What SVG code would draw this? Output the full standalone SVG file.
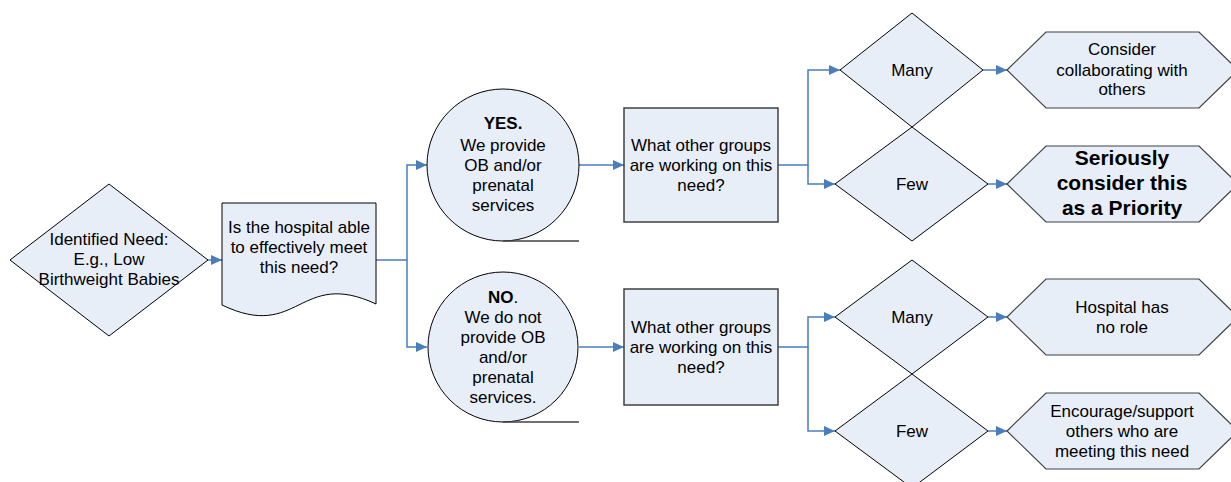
<svg xmlns="http://www.w3.org/2000/svg" width="1231" height="482" viewBox="0 0 1231 482">
<style>
.shape{fill:#e8eef7;stroke:#000;stroke-width:1}
.box{fill:#e8eef7;stroke:#404040;stroke-width:1.5}
.hex{fill:#e8eef7;stroke:#404040;stroke-width:1.2}
.tail{fill:none;stroke:#404040;stroke-width:1.5}
.conn{fill:none;stroke:#4a7ebb;stroke-width:1.5;marker-end:url(#arr)}
.t{font-family:"Liberation Sans",Arial,sans-serif;font-size:17px;fill:#000;text-anchor:middle}
.b{font-weight:bold}
.big{font-family:"Liberation Sans",Arial,sans-serif;font-size:21px;font-weight:bold;fill:#000;text-anchor:middle}
</style>
<defs>
<marker id="arr" markerUnits="userSpaceOnUse" markerWidth="12" markerHeight="12" refX="11" refY="5" orient="auto">
<path d="M0,0 L11,5 L0,10 Z" fill="#4a7ebb"/>
</marker>
</defs>
<rect width="1231" height="482" fill="#fff"/>
<g id="connectors">
<path class="conn" d="M208,260 H222"/>
<path class="conn" d="M376,260 H407 V165 H427"/>
<path class="conn" d="M407,260 V347 H427"/>
<path class="conn" d="M579,165 H624"/>
<path class="conn" d="M579,347 H624"/>
<path class="conn" d="M778,165 H808 V70 H840"/>
<path class="conn" d="M808,165 V184 H835"/>
<path class="conn" d="M778,347 H808 V317 H835"/>
<path class="conn" d="M808,347 V431 H835"/>
<path class="conn" d="M983,70 H1007"/>
<path class="conn" d="M988,184 H1007"/>
<path class="conn" d="M988,317 H1007"/>
<path class="conn" d="M988,431 H1007"/>
</g>
<g id="need">
<polygon class="shape" points="10,260 109,184 208,260 109,336"/>
<text class="t" x="109" y="245">Identified Need:</text>
<text class="t" x="109" y="265">E.g., Low</text>
<text class="t" x="109" y="285">Birthweight Babies</text>
</g>
<g id="able">
<path class="shape" d="M222,203 H376 V304 C299,268 299,342 222,305 Z"/>
<text class="t" x="299" y="233">Is the hospital able</text>
<text class="t" x="299" y="253">to effectively meet</text>
<text class="t" x="299" y="273">this need?</text>
</g>
<g id="yes">
<circle class="shape" cx="503" cy="165" r="76"/>
<path class="tail" d="M503,241 H579"/>
<text class="t b" x="503" y="129">YES.</text>
<text class="t" x="503" y="151">We provide</text>
<text class="t" x="503" y="171">OB and/or</text>
<text class="t" x="503" y="191">prenatal</text>
<text class="t" x="503" y="211">services</text>
</g>
<g id="no">
<circle class="shape" cx="503" cy="347" r="75"/>
<path class="tail" d="M503,422 H579"/>
<text class="t" x="503" y="303"><tspan class="b">NO</tspan>.</text>
<text class="t" x="503" y="323">We do not</text>
<text class="t" x="503" y="343">provide OB</text>
<text class="t" x="503" y="363">and/or</text>
<text class="t" x="503" y="383">prenatal</text>
<text class="t" x="503" y="403">services.</text>
</g>
<g id="groups-yes">
<rect class="box" x="624" y="108" width="154" height="114"/>
<text class="t" x="701" y="151">What other groups</text>
<text class="t" x="701" y="171">are working on this</text>
<text class="t" x="701" y="191">need?</text>
</g>
<g id="groups-no">
<rect class="box" x="624" y="289" width="154" height="116"/>
<text class="t" x="701" y="333">What other groups</text>
<text class="t" x="701" y="353">are working on this</text>
<text class="t" x="701" y="373">need?</text>
</g>
<g id="many-yes">
<polygon class="shape" points="840,70 912,13 983,70 912,127"/>
<text class="t" x="912" y="76">Many</text>
</g>
<g id="few-yes">
<polygon class="shape" points="835,184 912,127 988,184 912,241"/>
<text class="t" x="912" y="190">Few</text>
</g>
<g id="many-no">
<polygon class="shape" points="835,317 912,260 988,317 912,374"/>
<text class="t" x="912" y="323">Many</text>
</g>
<g id="few-no">
<polygon class="shape" points="835,431 912,374 988,431 912,488"/>
<text class="t" x="912" y="437">Few</text>
</g>
<g id="collaborate">
<polygon class="hex" points="1007,70 1046,32 1199,32 1238,70 1199,108 1046,108"/>
<text class="t" x="1122" y="55">Consider</text>
<text class="t" x="1122" y="76">collaborating with</text>
<text class="t" x="1122" y="95">others</text>
</g>
<g id="priority">
<polygon class="hex" points="1007,184 1046,146 1199,146 1238,184 1199,222 1046,222"/>
<text class="big" x="1122" y="165">Seriously</text>
<text class="big" x="1122" y="190">consider this</text>
<text class="big" x="1122" y="215">as a Priority</text>
</g>
<g id="norole">
<polygon class="hex" points="1007,317 1046,279 1199,279 1238,317 1199,355 1046,355"/>
<text class="t" x="1122" y="313">Hospital has</text>
<text class="t" x="1122" y="333">no role</text>
</g>
<g id="encourage">
<polygon class="hex" points="1007,431 1046,393 1199,393 1238,431 1199,469 1046,469"/>
<text class="t" x="1122" y="417">Encourage/support</text>
<text class="t" x="1122" y="437">others who are</text>
<text class="t" x="1122" y="457">meeting this need</text>
</g>
</svg>
